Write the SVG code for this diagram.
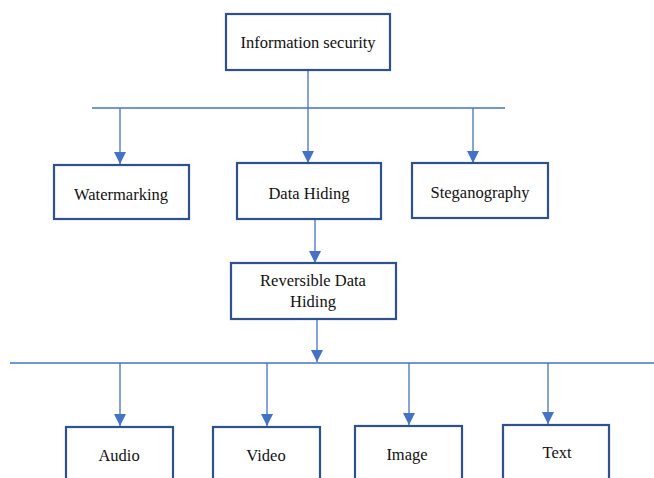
<svg xmlns="http://www.w3.org/2000/svg" width="654" height="478" viewBox="0 0 654 478">
<style>
.box{fill:#fff;stroke:#2F528F;stroke-width:2.2}
.t{font-family:'Liberation Serif','DejaVu Serif',serif;font-size:16.5px;fill:#111;text-anchor:middle}
.c{stroke:#4472C4;stroke-width:1.3;fill:none}
</style>
<defs>
<marker id="ah" markerUnits="userSpaceOnUse" markerWidth="12" markerHeight="12" viewBox="0 0 12 12" refX="12" refY="6" orient="auto">
<path d="M0,0 L12,6 L0,12 Z" fill="#4472C4"/>
</marker>
</defs>
<rect width="654" height="478" fill="#fff"/>
<g id="connectors">
<line class="c" x1="308" y1="70" x2="308" y2="108"/>
<line class="c" x1="92" y1="108" x2="505" y2="108"/>
<line class="c" x1="120" y1="108" x2="120" y2="164" marker-end="url(#ah)"/>
<line class="c" x1="308" y1="108" x2="308" y2="163" marker-end="url(#ah)"/>
<line class="c" x1="473" y1="108" x2="473" y2="163" marker-end="url(#ah)"/>
<line class="c" x1="315" y1="220" x2="315" y2="263" marker-end="url(#ah)"/>
<line class="c" x1="317" y1="319" x2="317" y2="362" marker-end="url(#ah)"/>
<line class="c" x1="10" y1="363" x2="654" y2="363"/>
<line class="c" x1="120" y1="363" x2="120" y2="426" marker-end="url(#ah)"/>
<line class="c" x1="267" y1="363" x2="267" y2="426" marker-end="url(#ah)"/>
<line class="c" x1="409" y1="363" x2="409" y2="425" marker-end="url(#ah)"/>
<line class="c" x1="548" y1="363" x2="548" y2="424" marker-end="url(#ah)"/>
</g>
<g id="info-security"><rect class="box" x="226" y="14" width="164" height="56"/><text class="t" x="308" y="48">Information security</text></g>
<g id="watermarking"><rect class="box" x="54" y="165" width="135" height="54"/><text class="t" x="121" y="200">Watermarking</text></g>
<g id="data-hiding"><rect class="box" x="237" y="163" width="144" height="56"/><text class="t" x="309" y="199">Data Hiding</text></g>
<g id="steganography"><rect class="box" x="412" y="163" width="136" height="55"/><text class="t" x="480" y="198">Steganography</text></g>
<g id="rdh"><rect class="box" x="231" y="263" width="165" height="56"/><text class="t" x="313" y="286">Reversible Data</text><text class="t" x="313" y="307">Hiding</text></g>
<g id="audio"><rect class="box" x="66" y="427" width="107" height="60"/><text class="t" x="119" y="461">Audio</text></g>
<g id="video"><rect class="box" x="213" y="427" width="107" height="60"/><text class="t" x="266" y="461">Video</text></g>
<g id="image"><rect class="box" x="355" y="426" width="107" height="60"/><text class="t" x="407" y="460">Image</text></g>
<g id="text"><rect class="box" x="503" y="425" width="106" height="60"/><text class="t" x="557" y="458">Text</text></g>
</svg>
